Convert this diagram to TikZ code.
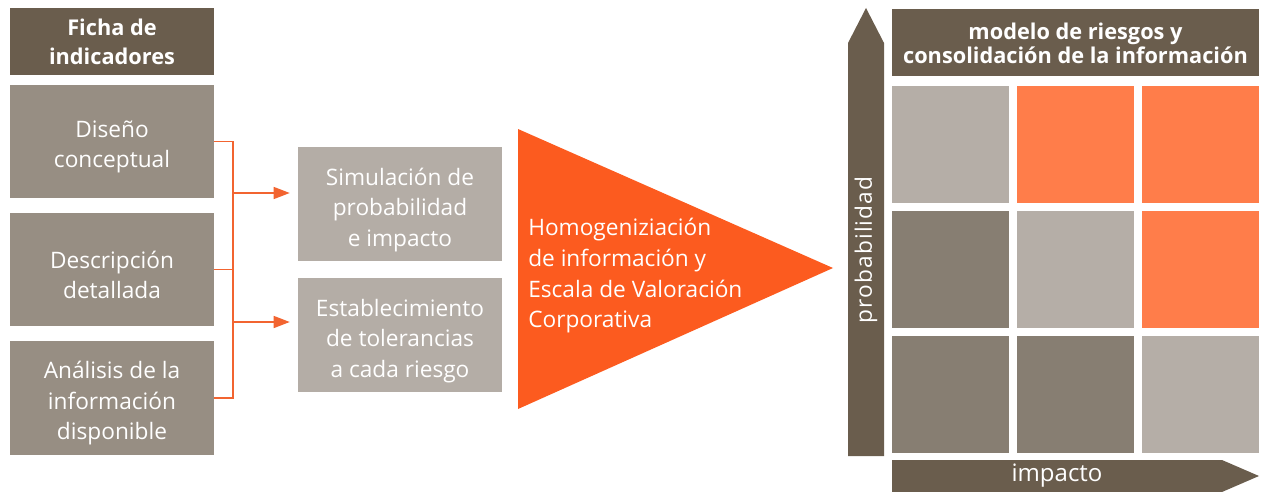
\documentclass[tikz,border=0pt]{standalone}
\usepackage{fontspec}
\setmainfont{Open Sans}
\usetikzlibrary{arrows.meta,calc}
\newcommand\pxu{0.75pt}
\definecolor{hdr}{HTML}{6A5D4D}
\definecolor{boxL}{HTML}{978E83}
\definecolor{boxM}{HTML}{B4ADA6}
\definecolor{cellL}{HTML}{B5AEA7}
\definecolor{cellD}{HTML}{877E72}
\definecolor{cellO}{HTML}{FF7D4A}
\definecolor{triO}{HTML}{FC5B1F}
\definecolor{lineO}{HTML}{F26430}
\tikzset{
  base/.style={inner sep=0pt, align=center, text=white, font=\fontsize{17}{23}\selectfont},
  hdrbox/.style={base, fill=hdr, font=\fontsize{16.3}{21.75}\selectfont\bfseries},
  lbox/.style={base, fill=boxL, minimum width=204*\pxu},
  mbox/.style={base, fill=boxM, minimum width=204*\pxu, minimum height=114*\pxu},
  cell/.style={inner sep=0pt, minimum width=117*\pxu, minimum height=117*\pxu},
  conn/.style={draw=lineO, line width=1pt},
  arr/.style={conn, -{Triangle[length=12pt,width=9pt]}},
}
\begin{document}
\begin{tikzpicture}[x=0.75pt,y=-0.75pt]
\useasboundingbox (0,0) rectangle (1264,492);
% left column
\node[hdrbox, minimum width=204*\pxu, minimum height=67*\pxu] (hl) at (112,41.5) {Ficha de\\indicadores};
\node[lbox, minimum height=113*\pxu] (d1) at (112,141.5) {};
\node[base] (d1t) at ([yshift=-4pt]d1.center) {Diseño\\conceptual};
\node[lbox, minimum height=113*\pxu] (d2) at (112,269.5) {};
\node[base] (d2t) at ([yshift=-4pt]d2.center) {Descripción\\detallada};
\node[lbox, minimum height=114*\pxu] (d3) at (112,398) {};
\node[base] (d3t) at ([yshift=-4pt]d3.center) {Análisis de la\\información\\disponible};
% middle boxes
\node[mbox] (s1) at (400,204) {};
\node[base] (s1t) at ([yshift=-4.5pt]s1.center) {Simulación de\\probabilidad\\e impacto};
\node[mbox] (s2) at (400,335) {};
\node[base] (s2t) at ([yshift=-4.5pt]s2.center) {Establecimiento\\de tolerancias\\a cada riesgo};
% bracket
\coordinate (top) at (233,141.5);
\coordinate (bot) at (233,398);
\coordinate (j1) at (233,193);
\coordinate (j2) at (233,322);
\draw[conn] (d1.east) -- (top) -- (bot) -- (d3.east);
\draw[conn] (d2.east) -- (d2.east -| top);
\draw[arr] (j1) -- ([xshift=-8*\pxu]s1.west |- j1);
\draw[arr] (j2) -- ([xshift=-8*\pxu]s2.west |- j2);
% triangle
\coordinate (tA) at (518,129);
\coordinate (tB) at (518,409);
\coordinate (tC) at (833,268);
\fill[triO] (tA) -- (tC) -- (tB) -- cycle;
\node[base, anchor=west, align=left] (tri) at (528,276) {Homogeniziación\\de información y\\Escala de Valoración\\Corporativa};
% right: vertical arrow
\coordinate (v1) at (848,456);
\coordinate (v2) at (848,43);
\coordinate (v3) at (866,8);
\coordinate (v4) at (884,43);
\coordinate (v5) at (884,456);
\fill[hdr] (v1) -- (v2) -- (v3) -- (v4) -- (v5) -- cycle;
\node[base, rotate=90] (prob) at (866,250) {\addfontfeature{LetterSpace=5}probabilidad};
% header
\node[hdrbox, minimum width=367*\pxu, minimum height=67*\pxu, font=\fontsize{16.3}{18}\selectfont\bfseries] (hr) at (1075.5,43) {modelo de riesgos y\\consolidación de la información};
% grid
\node[cell, fill=cellL] (c11) at (950.5,144.5) {};
\node[cell, fill=cellO] (c12) at (1075.5,144.5) {};
\node[cell, fill=cellO] (c13) at (1200.5,144.5) {};
\node[cell, fill=cellD] (c21) at (950.5,269) {};
\node[cell, fill=cellL] (c22) at (1075.5,269) {};
\node[cell, fill=cellO] (c23) at (1200.5,269) {};
\node[cell, fill=cellD] (c31) at (950.5,394.5) {};
\node[cell, fill=cellD] (c32) at (1075.5,394.5) {};
\node[cell, fill=cellL] (c33) at (1200.5,394.5) {};
% bottom arrow
\coordinate (h1) at (892,460);
\coordinate (h2) at (1222,460);
\coordinate (h3) at (1259,476);
\coordinate (h4) at (1222,492);
\coordinate (h5) at (892,492);
\fill[hdr] (h1) -- (h2) -- (h3) -- (h4) -- (h5) -- cycle;
\node[base, font=\fontsize{18}{23}\selectfont] (imp) at (1057,476) {impacto};
\end{tikzpicture}
\end{document}
